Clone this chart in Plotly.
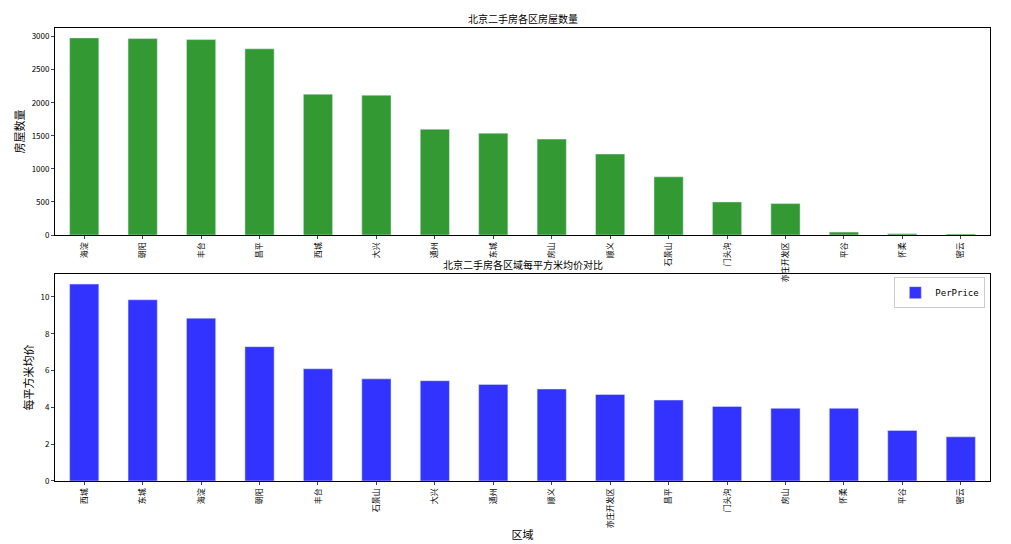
import plotly.graph_objects as go
from plotly.subplots import make_subplots

d1 = ["海淀","朝阳","丰台","昌平","西城","大兴","通州","东城","房山","顺义","石景山","门头沟","亦庄开发区","平谷","怀柔","密云"]
v1 = [2980,2970,2955,2815,2130,2115,1600,1540,1450,1225,880,500,475,45,20,15]
d2 = ["西城","东城","海淀","朝阳","丰台","石景山","大兴","通州","顺义","亦庄开发区","昌平","门头沟","房山","怀柔","平谷","密云"]
v2 = [10.7,9.85,8.85,7.3,6.1,5.55,5.45,5.25,5.0,4.7,4.4,4.05,3.95,3.95,2.75,2.4]

font = "Noto Sans CJK SC"
fig = go.Figure()
fig.add_trace(go.Bar(x=d1, y=v1, name="Price", marker_color="rgba(0,128,0,0.8)", width=0.5, xaxis="x", yaxis="y"))
fig.add_trace(go.Bar(x=d2, y=v2, name="PerPrice", marker_color="rgba(0,0,255,0.8)", width=0.5, xaxis="x2", yaxis="y2", legend="legend2"))

ax = dict(showline=True, linecolor="black", mirror=True, ticks="outside", ticklen=3, showgrid=False, zeroline=False,
          tickfont=dict(size=8))
fig.update_layout(
    width=1011, height=544, margin=dict(l=46, r=29, t=20, b=67),
    plot_bgcolor="white", paper_bgcolor="white", font=dict(family=font, size=9, color="black"),
    xaxis=dict(ax, domain=[0,1], anchor="y", tickangle=-90),
    yaxis=dict(ax, domain=[0.543,1], range=[0,3130], dtick=500, title=dict(text="房屋数量", standoff=4)),
    xaxis2=dict(ax, domain=[0,1], anchor="y2", tickangle=-90, title=dict(text="区域", standoff=4)),
    yaxis2=dict(ax, domain=[0,0.457], range=[0,11.25], dtick=2, title=dict(text="每平方米均价", standoff=4)),
    legend=dict(x=0.995, y=0.99, xanchor="right", yanchor="top", bordercolor="#ccc", borderwidth=1, font=dict(size=9, family="DejaVu Sans Mono")),
    legend2=dict(x=0.995, y=0.45, xanchor="right", yanchor="top", bordercolor="#ccc", borderwidth=1, font=dict(size=9, family="DejaVu Sans Mono")),
    annotations=[
        dict(text="北京二手房各区房屋数量", x=0.5, y=1, xref="paper", yref="paper", yanchor="bottom", showarrow=False, font=dict(size=10)),
        dict(text="北京二手房各区域每平方米均价对比", x=0.5, y=0.457, xref="paper", yref="paper", yanchor="bottom", showarrow=False, font=dict(size=10)),
    ],
)
fig.write_html("out.html")
